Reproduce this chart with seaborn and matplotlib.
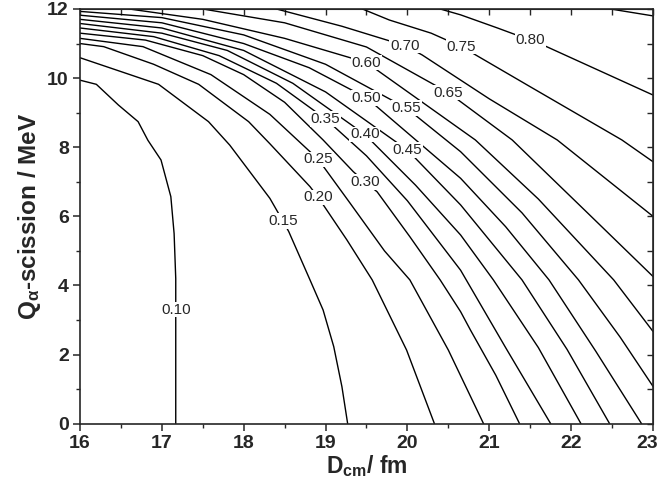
import numpy as np
import pandas as pd
import seaborn as sns
import matplotlib.pyplot as plt
import matplotlib.transforms as mtransforms

# contour levels and the traced points of each line (D_cm in fm, Q in MeV)
levels = ["0.10", "0.15", "0.20", "0.25", "0.30", "0.35", "0.40", "0.45",
          "0.50", "0.55", "0.60", "0.65", "0.70", "0.75", "0.80", "0.85"]

d_010 = [17.17, 17.17, 17.15, 17.11, 16.99, 16.83, 16.71, 16.47, 16.20, 16.0]
q_010 = [0.0, 4.2, 5.5, 6.57, 7.63, 8.2, 8.74, 9.22, 9.82, 9.94]

d_015 = [16.0, 16.96, 17.57, 17.83, 18.32, 18.48, 18.55, 18.81, 18.97, 19.10, 19.20, 19.27]
q_015 = [10.59, 9.82, 8.74, 8.06, 6.52, 5.86, 5.56, 4.16, 3.29, 2.23, 1.07, 0.0]

d_020 = [16.0, 16.29, 16.9, 17.45, 18.06, 18.32, 18.81, 18.91, 19.26, 19.57, 19.99, 20.33]
q_020 = [11.0, 10.91, 10.4, 9.82, 8.74, 8.1, 6.86, 6.55, 5.32, 4.16, 2.13, 0.0]

d_025 = [16.0, 16.77, 17.6, 18.32, 18.91, 19.30, 19.72, 20.03, 20.50, 20.93]
q_025 = [11.15, 10.91, 10.1, 8.95, 7.65, 6.38, 5.0, 4.16, 2.13, 0.0]

d_030 = [16.0, 16.8, 17.5, 18.0, 18.5, 18.97, 19.34, 19.48, 19.63, 20.03, 20.40, 20.65, 20.77, 21.08, 21.37]
q_030 = [11.30, 11.1, 10.65, 10.1, 9.3, 8.21, 7.29, 7.0, 6.71, 5.41, 4.16, 3.24, 2.71, 1.4, 0.0]

d_035 = [16.0, 16.9, 17.7, 18.4, 19.0, 19.5, 20.0, 20.65, 21.2, 21.75]
q_035 = [11.45, 11.2, 10.65, 9.85, 8.82, 7.75, 6.45, 4.44, 2.2, 0.0]

d_040 = [16.0, 17.0, 17.8, 18.6, 19.48, 20.1, 20.65, 21.05, 21.6, 22.12]
q_040 = [11.58, 11.3, 10.8, 9.85, 8.37, 6.9, 5.46, 4.16, 2.2, 0.0]

d_045 = [16.0, 17.0, 18.0, 19.0, 20.0, 20.65, 21.40, 21.95, 22.47]
q_045 = [11.70, 11.45, 10.8, 9.6, 7.92, 6.33, 4.16, 2.15, 0.0]

d_050 = [16.0, 17.0, 18.0, 18.8, 19.5, 20.65, 21.2, 21.73, 22.3, 22.86]
q_050 = [11.82, 11.6, 11.0, 10.3, 9.43, 7.10, 5.7, 4.16, 2.1, 0.0]

d_055 = [16.0, 17.0, 18.0, 19.0, 19.99, 20.65, 21.4, 22.09, 22.6, 23.0]
q_055 = [11.93, 11.75, 11.25, 10.4, 9.13, 7.87, 6.1, 4.16, 2.5, 1.08]

d_060 = [16.6, 17.5, 18.5, 19.5, 20.83, 21.6, 22.52, 23.0]
q_060 = [12.0, 11.7, 11.15, 10.45, 8.21, 6.5, 4.16, 2.67]

d_065 = [17.5, 18.5, 19.5, 20.5, 21.28, 22.2, 23.0]
q_065 = [12.0, 11.6, 10.9, 9.58, 8.21, 6.1, 4.26]

d_070 = [18.4, 19.2, 19.97, 20.18, 21.0, 21.83, 23.0]
q_070 = [12.0, 11.5, 10.94, 10.67, 9.4, 8.21, 6.0]

d_075 = [19.45, 19.78, 20.29, 20.66, 21.5, 22.62, 23.0]
q_075 = [12.0, 11.68, 11.30, 10.91, 9.75, 8.21, 7.58]

d_080 = [20.4, 20.65, 21.1, 21.50, 21.70, 23.0]
q_080 = [12.0, 11.83, 11.45, 11.10, 10.91, 9.51]

d_085 = [22.48, 23.0]
q_085 = [12.0, 11.8]

line_d = [d_010, d_015, d_020, d_025, d_030, d_035, d_040, d_045,
          d_050, d_055, d_060, d_065, d_070, d_075, d_080, d_085]
line_q = [q_010, q_015, q_020, q_025, q_030, q_035, q_040, q_045,
          q_050, q_055, q_060, q_065, q_070, q_075, q_080, q_085]

# where the inline labels sit (0.85 has no label)
label_text = levels[:15]
label_d = [17.17, 18.48, 18.91, 18.91, 19.48, 19.0, 19.48, 20.0,
           19.50, 19.99, 19.50, 20.50, 19.97, 20.66, 21.50]
label_q = [3.30, 5.86, 6.55, 7.65, 7.0, 8.82, 8.37, 7.92,
           9.43, 9.13, 10.45, 9.58, 10.94, 10.91, 11.10]

rows = []
for lev, ds, qs in zip(levels, line_d, line_q):
    for k, (d, q) in enumerate(zip(ds, qs)):
        rows.append({"level": lev, "order": k, "D": d, "Q": q})
df = pd.DataFrame(rows)

sns.set_style("ticks")
plt.rcParams["font.family"] = ["Liberation Sans", "DejaVu Sans"]
plt.rcParams["mathtext.fontset"] = "custom"
plt.rcParams["mathtext.rm"] = "Liberation Sans:bold"
plt.rcParams["mathtext.bf"] = "Liberation Sans:bold"
plt.rcParams["mathtext.it"] = "Liberation Sans:bold"

fig = plt.figure(figsize=(6.62, 4.96), dpi=100)
ax = fig.add_axes([0.1208, 0.1458, 0.8656, 0.8361])

sns.lineplot(data=df, x="D", y="Q", units="level", estimator=None, sort=False,
             color="black", lw=1.0, ax=ax)

for t, d, q in zip(label_text, label_d, label_q):
    ax.text(d, q, t, ha="center", va="center", fontsize=11,
            bbox=dict(facecolor="white", edgecolor="none", pad=0.5))

ax.set_xlim(16, 23)
ax.set_ylim(0, 12)
ax.set_xticks(np.arange(16, 24, 1))
ax.set_yticks(np.arange(0, 13, 2))
ax.set_xticks(np.arange(16.5, 23, 1), minor=True)
ax.set_yticks(np.arange(1, 12, 2), minor=True)
ax.tick_params(which="major", direction="out", length=5, width=1.1,
               labelsize=14, pad=3)
ax.tick_params(which="minor", direction="out", length=3, width=1.0)
for lab in ax.get_xticklabels() + ax.get_yticklabels():
    lab.set_fontweight("bold")

# the last x label sits right at the figure edge, nudge it in a little
last = ax.get_xticklabels()[-1]
last.set_transform(last.get_transform() +
                   mtransforms.ScaledTranslation(-4 / 72, 0, fig.dpi_scale_trans))

# inward ticks on the top and right frame
top = ax.secondary_xaxis("top")
top.set_xticks(np.arange(16, 23.01, 0.5))
top.tick_params(direction="in", length=4, width=1.0, labeltop=False)
right = ax.secondary_yaxis("right")
right.set_yticks(np.arange(0, 12.01, 1))
right.tick_params(direction="in", length=4, width=1.0, labelright=False)

for sp in ax.spines.values():
    sp.set_linewidth(1.2)

ax.set_xlabel(r"D$_{\mathrm{cm}}$/ fm", fontsize=16.5, fontweight="bold", labelpad=1)
ax.set_ylabel(r"Q$_{\alpha}$-scission / MeV", fontsize=17.5, fontweight="bold", labelpad=3)

fig.savefig("out.png", dpi=100)
